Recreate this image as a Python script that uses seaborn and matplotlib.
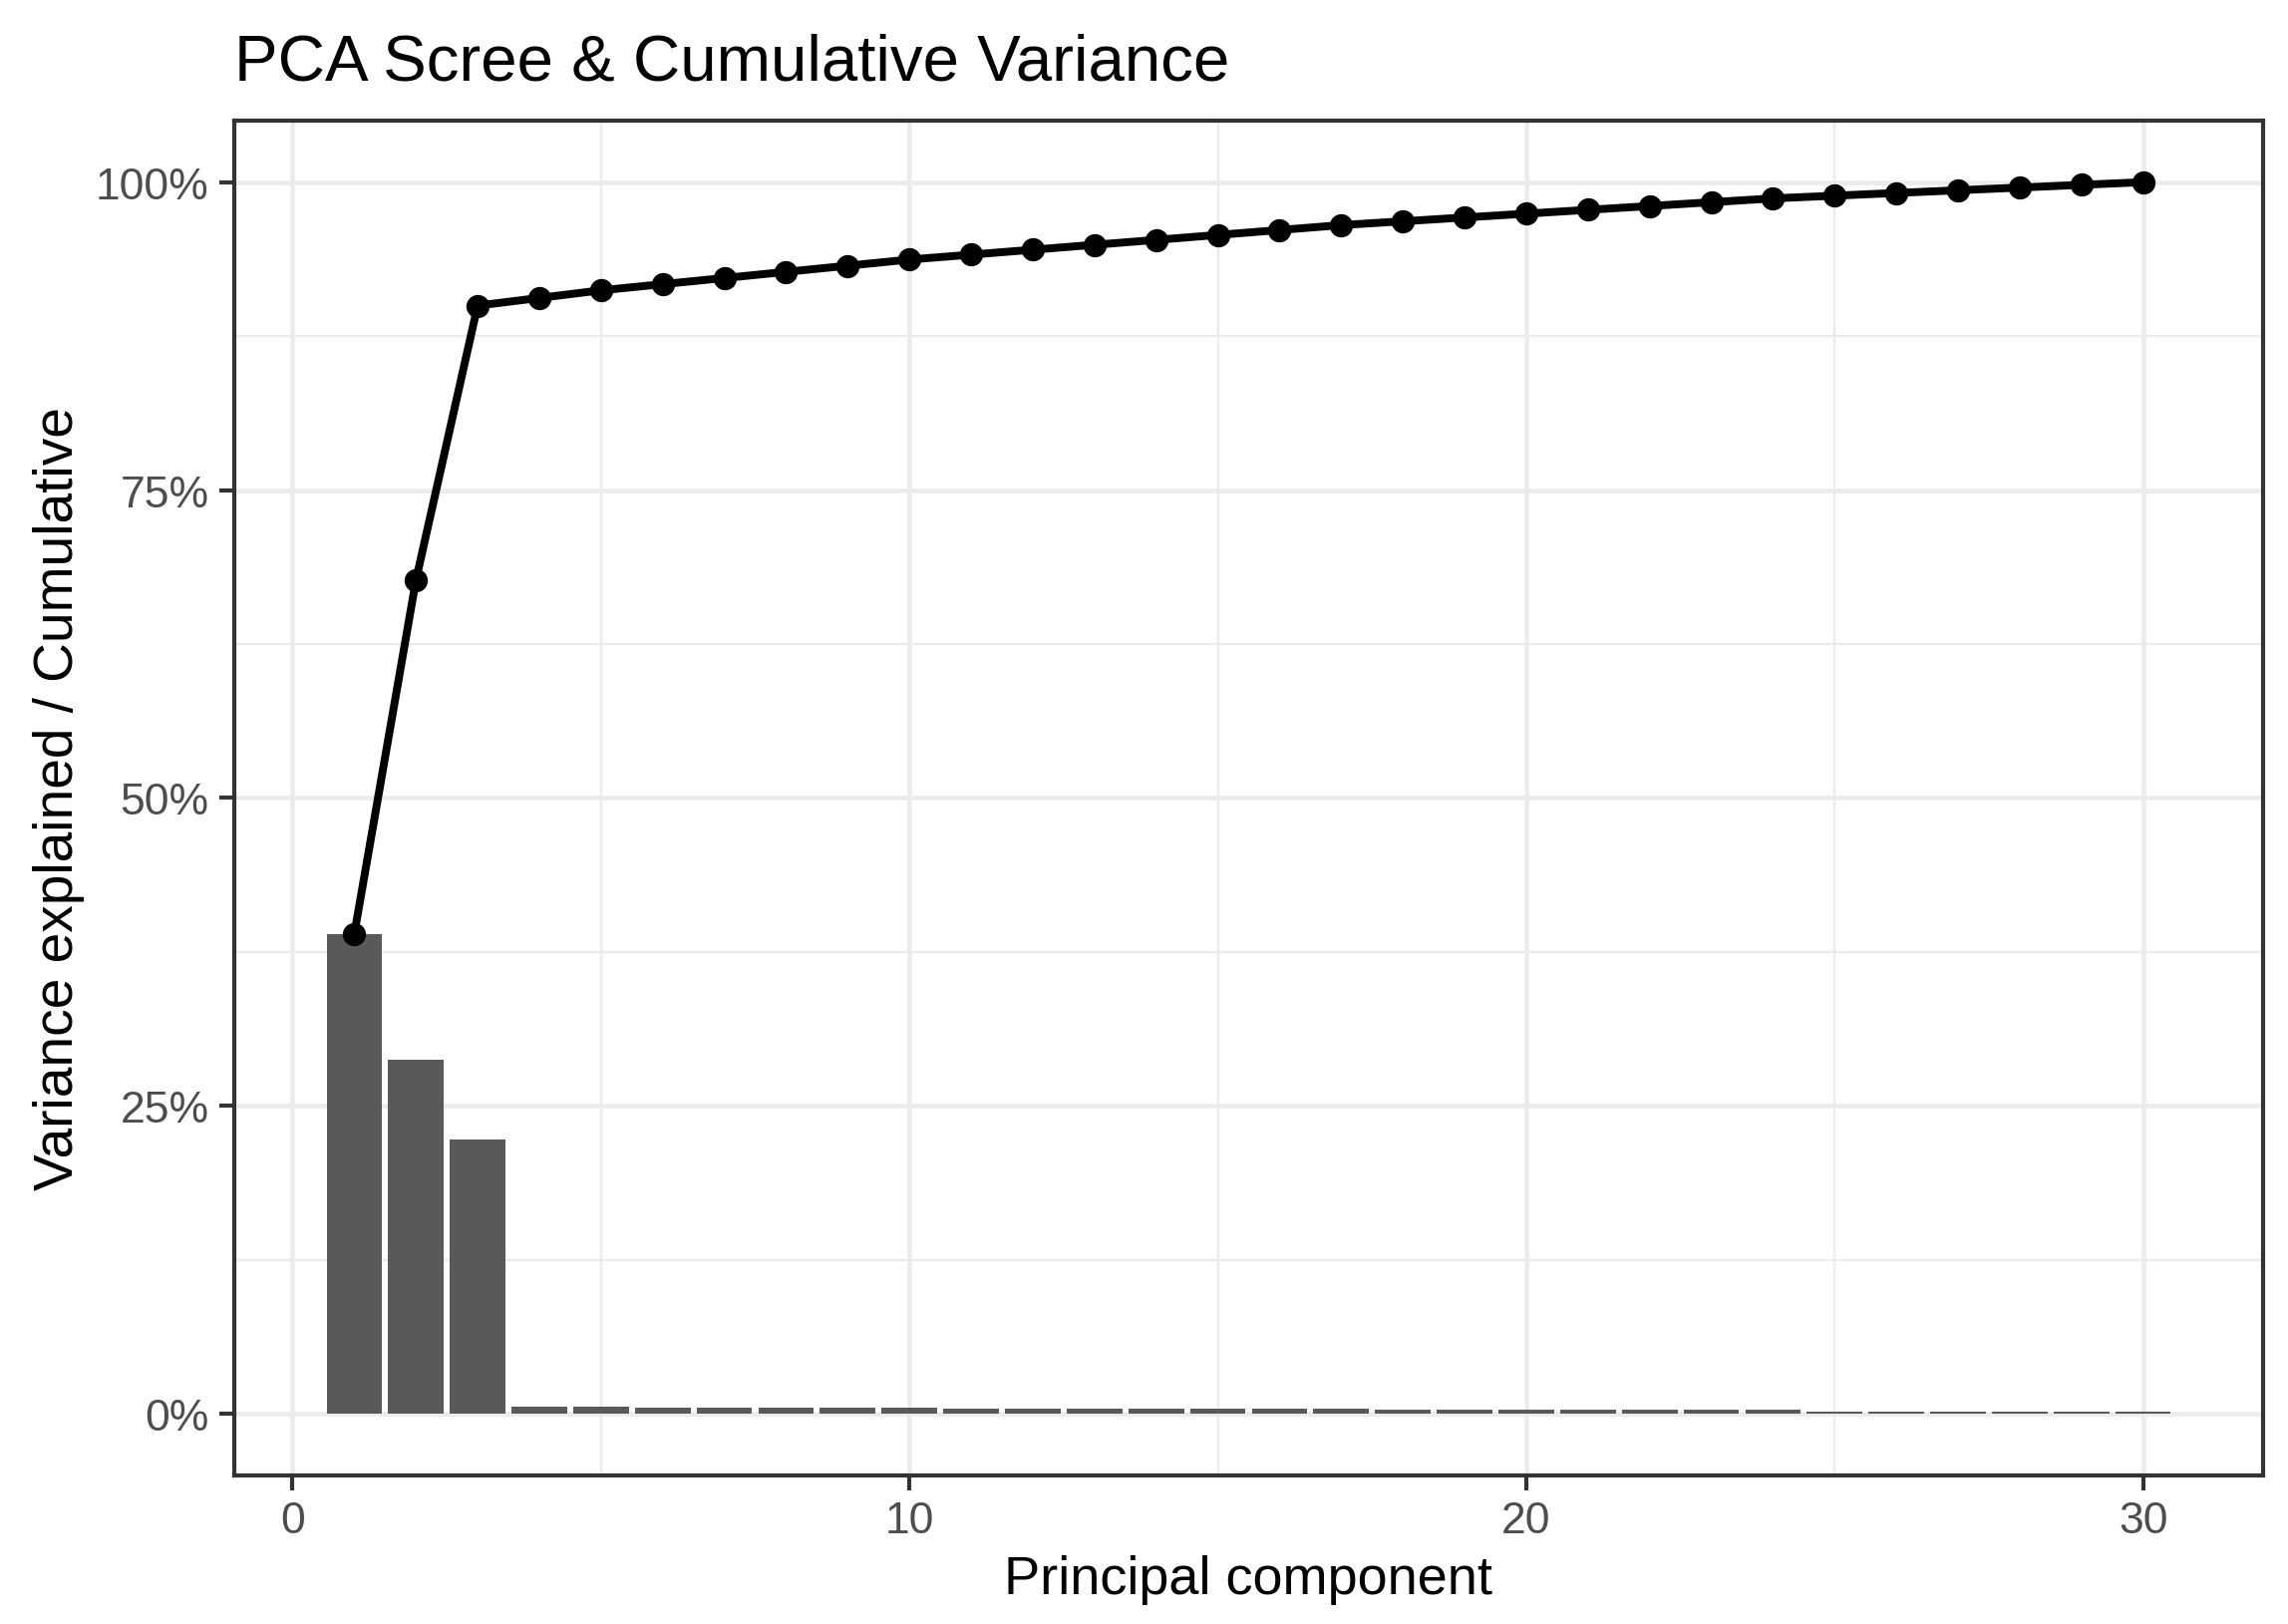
import matplotlib
matplotlib.use("Agg")
import matplotlib.pyplot as plt
from matplotlib.ticker import PercentFormatter, MultipleLocator
import numpy as np
import pandas as pd
import seaborn as sns

# principal components and share of variance explained by each
pc = list(range(1, 31))
var_explained = [0.3898, 0.2877, 0.2231,
                 0.0062, 0.0062,
                 0.0050, 0.0050, 0.0050, 0.0050, 0.0050,
                 0.0040, 0.0040, 0.0040, 0.0040, 0.0040, 0.0040, 0.0040,
                 0.0031, 0.0031, 0.0031, 0.0031, 0.0031, 0.0031, 0.0031,
                 0.0022, 0.0022, 0.0022, 0.0022, 0.0022, 0.0022]

df = pd.DataFrame({"pc": pc, "var": var_explained})
df["cum"] = df["var"].cumsum()
df["cum"] = df["cum"] / df["cum"].iloc[-1]

sns.set_style("white")
plt.rcParams["font.family"] = ["Liberation Sans", "DejaVu Sans"]

fig = plt.figure(figsize=(7.65, 5.4333), dpi=300)
ax = fig.add_axes([0.1024, 0.0914, 0.8867, 0.8338])

sns.barplot(data=df, x="pc", y="var", native_scale=True, width=0.9,
            color="#595959", saturation=1, linewidth=0, ax=ax, zorder=3)
sns.lineplot(data=df, x="pc", y="cum", color="black", linewidth=1.9,
             marker="o", markersize=5.6, markeredgewidth=0, ax=ax, zorder=4)

ax.set_xlim(-0.945, 31.945)
ax.set_ylim(-0.05, 1.05)
ax.xaxis.set_major_locator(MultipleLocator(10))
ax.xaxis.set_minor_locator(MultipleLocator(5))
ax.yaxis.set_major_locator(MultipleLocator(0.25))
ax.yaxis.set_minor_locator(MultipleLocator(0.125))
ax.yaxis.set_major_formatter(PercentFormatter(xmax=1, decimals=0))

ax.grid(which="major", color="#EBEBEB", linewidth=1.1, zorder=0)
ax.grid(which="minor", color="#EBEBEB", linewidth=0.55, zorder=0)
ax.set_axisbelow(True)

for s in ax.spines.values():
    s.set_color("#333333")
    s.set_linewidth(1.0)

ax.tick_params(which="major", length=3.6, width=1.0, color="#333333",
               labelsize=10.7, labelcolor="#4D4D4D", pad=2.5,
               bottom=True, left=True)
ax.tick_params(which="minor", length=0)

ax.set_xlabel("Principal component", fontsize=13, color="black", labelpad=3)
ax.set_ylabel("Variance explained / Cumulative", fontsize=13.2, color="black", labelpad=2.5)
ax.set_title("PCA Scree & Cumulative Variance", loc="left", fontsize=15.7,
             color="black", pad=10)

fig.savefig("out.png", dpi=300, facecolor="white")
